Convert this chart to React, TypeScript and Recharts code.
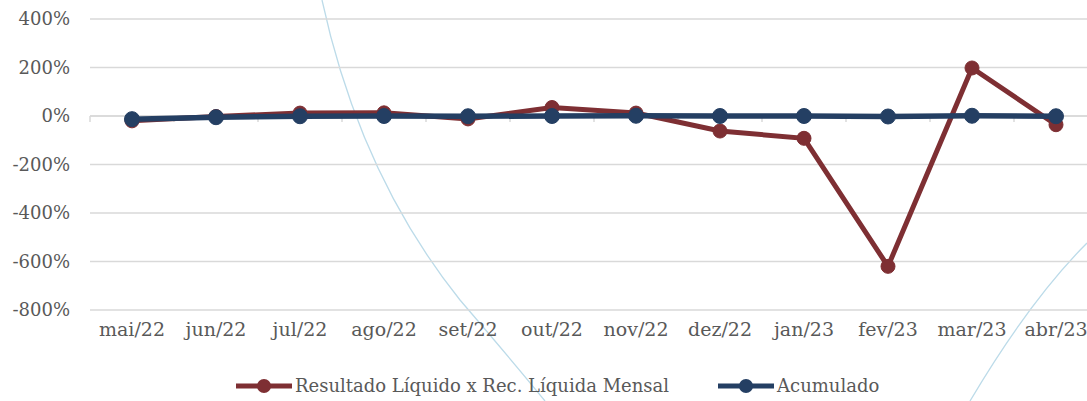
import React from 'react';
import { LineChart, Line, XAxis, YAxis, CartesianGrid, Legend, ReferenceLine } from 'recharts';

const months = ['mai/22', 'jun/22', 'jul/22', 'ago/22', 'set/22', 'out/22', 'nov/22', 'dez/22', 'jan/23', 'fev/23', 'mar/23', 'abr/23'];
const resultado = [-20, -2, 12, 13, -12, 35, 12, -62, -92, -620, 198, -36];
const acumulado = [-13, -5, -1, 0, -1, 0, 1, 0, 0, -2, 1, -1];
const yTicks = [-800, -600, -400, -200, 0, 200, 400];

const SERIES_RES = 'Resultado Líquido x Rec. Líquida Mensal';
const SERIES_ACU = 'Acumulado';
const RED = '#7e2f33';
const BLUE = '#243f63';
const FONT = '"DejaVu Serif", "Liberation Serif", serif';

const data = months.map((m, i) => ({ x: i + 0.5, label: m, res: resultado[i], acu: acumulado[i] }));
const xTicks = months.map((_, i) => i + 0.5);
const boundaries = Array.from({ length: months.length + 1 }, (_, k) => k);

const LegendContent = () => {
  const items = [
    { name: SERIES_RES, color: RED },
    { name: SERIES_ACU, color: BLUE },
  ];
  return (
    <div style={{ display: 'flex', alignItems: 'center', fontFamily: FONT, fontSize: 18, color: '#595959' }}>
      {items.map((it, idx) => (
        <div key={it.name} style={{ display: 'flex', alignItems: 'center', marginLeft: idx === 0 ? 0 : 49 }}>
          <svg width={56} height={20} style={{ marginRight: 3 }}>
            <line x1={0} y1={10} x2={56} y2={10} stroke={it.color} strokeWidth={5} />
            <circle cx={28} cy={10} r={7} fill={it.color} />
          </svg>
          <span style={{ lineHeight: '26px' }}>{it.name}</span>
        </div>
      ))}
    </div>
  );
};

export default function App() {
  return (
    <div style={{ position: 'absolute', left: 0, top: 0, width: 1087, height: 401, overflow: 'hidden', background: '#fff' }}>
      <svg width={1087} height={401} style={{ position: 'absolute', left: 0, top: 0 }}>
        <path d="M 322 0 Q 360 175 460 300 Q 520 370 545 401" fill="none" stroke="#bcdbe9" strokeWidth={1.3} />
        <path d="M 1087 243 Q 1030 300 970 401" fill="none" stroke="#bcdbe9" strokeWidth={1.3} />
      </svg>
      <div style={{ position: 'absolute', left: 0, top: 0 }}>
        <LineChart width={1100} height={401} data={data} margin={{ top: 19, right: 2, bottom: 0, left: 0 }}>
          <CartesianGrid horizontal vertical={false} stroke="#d9d9d9" strokeWidth={1.5} />
          <XAxis
            dataKey="x"
            type="number"
            domain={[0, 12]}
            ticks={xTicks}
            tickFormatter={(v: number) => months[Math.floor(v)]}
            axisLine={false}
            tickLine={false}
            tickSize={0}
            tickMargin={13}
            height={61}
            interval={0}
            tick={{ fill: '#595959', fontSize: 19, fontFamily: FONT }}
          />
          <YAxis
            type="number"
            domain={[-800, 400]}
            ticks={yTicks}
            tickFormatter={(v: number) => `${v}%`}
            axisLine={false}
            tickLine={false}
            tickSize={0}
            tickMargin={20}
            width={90}
            interval={0}
            tick={{ fill: '#595959', fontSize: 18, fontFamily: FONT }}
          />
          <ReferenceLine y={0} stroke="#d9d9d9" strokeWidth={1.5} />
          {boundaries.map((k) => (
            <ReferenceLine
              key={k}
              segment={[{ x: k, y: 0 }, { x: k, y: -25 }]}
              stroke="#d9d9d9"
              strokeWidth={1.5}
            />
          ))}
          <Legend
            verticalAlign="bottom"
            height={30}
            content={<LegendContent />}
            wrapperStyle={{ left: 236, top: 373, bottom: 'auto', width: 'auto' }}
          />
          <Line
            dataKey="res"
            name={SERIES_RES}
            stroke={RED}
            strokeWidth={5}
            dot={{ r: 7, fill: RED, stroke: RED, strokeWidth: 1 }}
            activeDot={false}
            isAnimationActive={false}
          />
          <Line
            dataKey="acu"
            name={SERIES_ACU}
            stroke={BLUE}
            strokeWidth={5.5}
            dot={{ r: 7.5, fill: BLUE, stroke: BLUE, strokeWidth: 1 }}
            activeDot={false}
            isAnimationActive={false}
          />
        </LineChart>
      </div>
    </div>
  );
}
